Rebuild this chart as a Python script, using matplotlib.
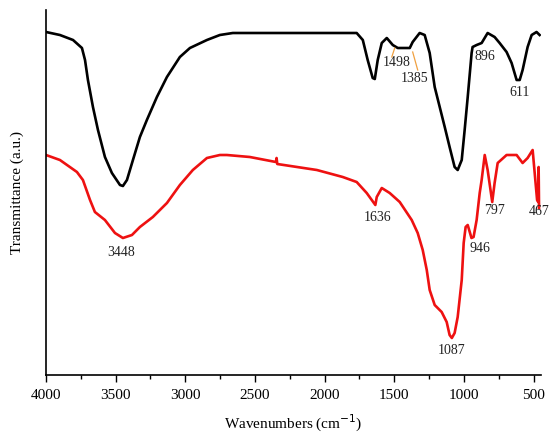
import matplotlib
matplotlib.use("Agg")
import matplotlib.pyplot as plt
from matplotlib.ticker import MultipleLocator

# Sample (black) spectrum: wavenumber, transmittance (a.u.)
black_wn = [4000, 3900, 3806, 3742, 3720, 3699, 3663, 3627, 3577, 3527, 3469, 3448, 3419, 3376,
            3326, 3276, 3204, 3132, 3039, 2967, 2845, 2752, 2659, 2178, 1770, 1726, 1691,
            1655, 1640, 1619, 1590, 1554, 1511, 1475, 1389, 1368, 1318, 1282, 1246, 1210,
            1174, 1138, 1103, 1067, 1045, 1016, 995, 973, 945, 938, 909, 873, 830, 780,
            744, 694, 658, 622, 600, 579, 543, 514, 479, 457]
black_t = [343, 340, 335, 327, 315, 295, 268, 245, 218, 202, 190, 189, 195, 215,
           238, 255, 278, 298, 318, 327, 335, 340, 342, 342, 342, 335, 315,
           297, 296, 315, 332, 337, 330, 327, 327, 333, 342, 340, 322, 288,
           268, 248, 228, 208, 205, 215, 245, 278, 322, 328, 330, 332, 342, 338,
           332, 323, 312, 295, 295, 305, 328, 340, 343, 340]

# Sample (red) spectrum
red_wn = [4000, 3900, 3778, 3735, 3684, 3649, 3577, 3505, 3448, 3383, 3326, 3233, 3132,
          3039, 2946, 2845, 2752, 2702, 2537, 2350, 2345, 2340, 2056, 1870, 1770, 1698,
          1636, 1626, 1590, 1533, 1461, 1375, 1332, 1296, 1267, 1246, 1210, 1160, 1124,
          1103, 1087, 1067, 1045, 1016, 1002, 988, 973, 946, 931, 909, 887, 873, 851,
          830, 797, 780, 758, 694, 622, 579, 543, 507, 475, 467, 464, 461]
red_t = [220, 215, 203, 195, 175, 163, 155, 142, 137, 140, 148, 158, 172,
         190, 205, 217, 220, 220, 218, 213, 217, 211, 205, 198, 193, 182,
         170, 178, 187, 182, 173, 155, 142, 125, 105, 85, 70, 63, 53,
         40, 37, 42, 58, 95, 132, 148, 150, 137, 138, 155, 182, 195, 220,
         205, 173, 192, 212, 220, 220, 212, 217, 225, 175, 173, 208, 167]

# Peak labels: text, wavenumber, transmittance position
labels = ["3448", "1498", "1385", "896", "611", "1636", "946", "797", "467", "1087"]
label_wn = [3462, 1483, 1354, 851, 600, 1619, 887, 780, 464, 1088]
label_t = [122, 312, 296, 318, 282, 158, 127, 165, 164, 25]

xticks = [4000, 3500, 3000, 2500, 2000, 1500, 1000, 500]

plt.rcParams['font.family'] = ['Liberation Serif', 'DejaVu Serif']

fig = plt.figure(figsize=(5.56, 4.44), dpi=100)
ax = fig.add_axes([46/556, 1-375/444, (541-46)/556, (375-10)/444])

ax.plot(black_wn, black_t, color='black', lw=1.9, solid_joinstyle='round')
ax.plot(red_wn, red_t, color='#ee1111', lw=1.9, solid_joinstyle='round')

for s, w, t in zip(labels, label_wn, label_t):
    ax.text(w, t, s, ha='center', va='center', fontsize=10, color='#222222')

# orange leader lines for 1498 and 1385
ax.plot([1497, 1518], [327, 318], color='#f0a040', lw=0.9)
ax.plot([1368, 1332], [323, 305], color='#f0a040', lw=0.9)

ax.set_xlim(4000, 447)
ax.set_ylim(0, 365)
ax.set_xticks(xticks)
ax.set_xticklabels([str(v) for v in xticks])
ax.xaxis.set_minor_locator(MultipleLocator(250))
ax.tick_params(axis='x', which='major', direction='out', length=5, width=1, labelsize=11, pad=5)
ax.tick_params(axis='x', which='minor', direction='out', length=3, width=1)
ax.set_yticks([])
for sp in ['top', 'right']:
    ax.spines[sp].set_visible(False)
ax.spines['left'].set_linewidth(1.2)
ax.spines['bottom'].set_linewidth(1.2)

ax.set_xlabel('Wavenumbers (cm$^{-1}$)', fontsize=11, labelpad=8)
ax.set_ylabel('Transmittance (a.u.)', fontsize=11, labelpad=16)

fig.savefig('out.png', dpi=100)
